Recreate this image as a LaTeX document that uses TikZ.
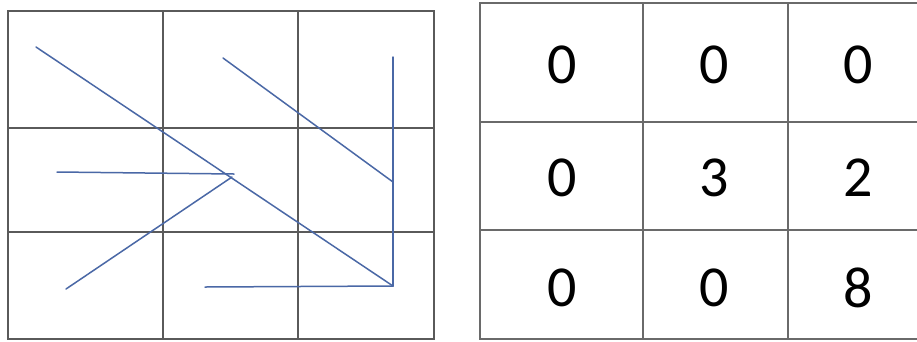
\documentclass[tikz,border=0pt]{standalone}
\usepackage{fontspec}
\setmainfont{Carlito}
\definecolor{gridc}{HTML}{5A5A5A}
\definecolor{tabc}{HTML}{6A6A6A}
\definecolor{strokec}{HTML}{4A68A6}
\begin{document}
\begin{tikzpicture}[x=1pt,y=-1pt,
  gridline/.style={draw=gridc,line width=1.3pt},
  tabline/.style={draw=tabc,line width=1.3pt},
  stroke/.style={draw=strokec,line width=1.5pt,line cap=round},
  num/.style={inner sep=0pt,font=\fontsize{58}{60}\selectfont}]
\useasboundingbox (0,0) rectangle (917,341);
\clip (0,0) rectangle (917,341);
\fill[white] (0,0) rectangle (917,341);
% left grid
\draw[gridline] (8,11) rectangle (434,339);
\draw[gridline] (163,11) -- (163,339);
\draw[gridline] (298,11) -- (298,339);
\draw[gridline] (8,128) -- (434,128);
\draw[gridline] (8,232) -- (434,232);
% strokes
\coordinate (a1) at (36,47);
\coordinate (a2) at (393,286);
\coordinate (b1) at (223,58);
\coordinate (b2) at (393,182);
\coordinate (c1) at (393,57);
\coordinate (d1) at (57,172);
\coordinate (d2) at (234,174);
\coordinate (e1) at (66,289);
\coordinate (e2) at (232,177);
\coordinate (f1) at (205,287);
\draw[stroke] (a1) -- (a2);
\draw[stroke] (b1) -- (b2);
\draw[stroke] (c1) -- (a2);
\draw[stroke] (d1) -- (d2);
\draw[stroke] (e1) -- (e2);
\draw[stroke] (f1) -- (a2);
% right table
\draw[tabline] (480,3) rectangle (940,339);
\draw[tabline] (643,3) -- (643,339);
\draw[tabline] (788,3) -- (788,339);
\draw[tabline] (480,122) -- (940,122);
\draw[tabline] (480,230) -- (940,230);
\node[num] (n11) at (562,65) {0};
\node[num] (n12) at (714,65) {0};
\node[num] (n13) at (858,65) {0};
\node[num] (n21) at (562,178) {0};
\node[num] (n22) at (714,178) {3};
\node[num] (n23) at (858,178) {2};
\node[num] (n31) at (562,288) {0};
\node[num] (n32) at (714,288) {0};
\node[num] (n33) at (858,288) {8};
\end{tikzpicture}
\end{document}
